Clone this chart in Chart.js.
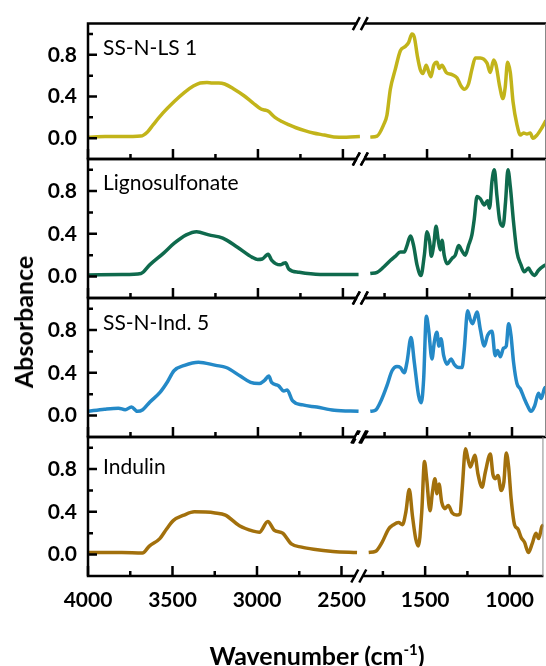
<!DOCTYPE html>
<html>
<head>
<meta charset="utf-8">
<script src="https://cdn.jsdelivr.net/npm/chart.js@4/dist/chart.umd.min.js"></script>
<style>
  html, body { margin: 0; padding: 0; background: #fff; }
  #wrap { position: relative; width: 546px; height: 666px; overflow: hidden; }
  #wrap canvas { position: absolute; left: 0; top: 0; }
  .ytitle { position: absolute; left: 23px; top: 322px; transform: translate(-50%, -50%) rotate(-90deg);
            font: bold 25px Lato, sans-serif; white-space: nowrap; color: #000; }
  .xtitle { position: absolute; left: 317px; top: 655px; transform: translate(-50%, -50%);
            font: bold 25px Lato, sans-serif; white-space: nowrap; color: #000; }
  .xtitle sup { font-size: 15px; vertical-align: 10px; line-height: 0; }
</style>
</head>
<body>
<div id="wrap">
  <canvas id="p0" width="546" height="666"></canvas>
  <canvas id="p1" width="546" height="666"></canvas>
  <canvas id="p2" width="546" height="666"></canvas>
  <canvas id="p3" width="546" height="666"></canvas>
  <div class="ytitle">Absorbance</div>
  <div class="xtitle">Wavenumber (cm<sup>-1</sup>)</div>
</div>
<script>
// sample names, top to bottom
const sampleNames = ['SS-N-LS 1', 'Lignosulfonate', 'SS-N-Ind. 5', 'Indulin'];

// x axis ticks (wavenumber, cm-1), broken between 2380 and 1875
const xMajor = [4000, 3500, 3000, 2500, 1500, 1000];
const xMinor = [3750, 3250, 2750, 1750, 1250];
const yMajor = [0, 0.4, 0.8];
const yMinor = [0.2, 0.6, 1.0];

// SS-N-LS 1
const lsWave = [4000, 3900, 3800, 3690, 3650, 3616, 3560, 3494, 3432, 3380, 3340, 3300, 3268, 3230, 3196, 3140, 3084, 3030, 2982, 2960, 2941, 2900, 2859, 2820, 2776, 2720, 2674, 2610, 2553, 2480, 2400,
  1834, 1794, 1755, 1736, 1716, 1687, 1657, 1628, 1608, 1589, 1575, 1556, 1540, 1524, 1505, 1491, 1477, 1461, 1442, 1428, 1412, 1387, 1353, 1324, 1300, 1281, 1256, 1236, 1216, 1187, 1147, 1128, 1108, 1094, 1073, 1053, 1040, 1026, 1010, 994, 971, 951, 932, 912, 893, 877, 853, 824, 800];
const lsAbs = [0.01, 0.015, 0.015, 0.02, 0.06, 0.13, 0.24, 0.35, 0.44, 0.50, 0.53, 0.535, 0.53, 0.53, 0.52, 0.47, 0.41, 0.34, 0.28, 0.27, 0.26, 0.20, 0.16, 0.13, 0.10, 0.07, 0.05, 0.03, 0.012, 0.01, 0.015,
  0.01, 0.02, 0.13, 0.22, 0.47, 0.66, 0.84, 0.88, 0.92, 1.0, 0.97, 0.78, 0.66, 0.62, 0.70, 0.64, 0.59, 0.70, 0.73, 0.67, 0.70, 0.63, 0.61, 0.58, 0.50, 0.47, 0.52, 0.66, 0.77, 0.77, 0.72, 0.63, 0.75, 0.70, 0.50, 0.38, 0.49, 0.73, 0.63, 0.35, 0.13, 0.03, 0.05, 0.04, 0.05, 0.0, 0.03, 0.10, 0.17];

// Lignosulfonate
const lignoWave = [4000, 3800, 3688, 3637, 3555, 3494, 3422, 3361, 3289, 3207, 3125, 3033, 3002, 2975, 2950, 2940, 2920, 2869, 2848, 2838, 2818, 2757, 2634, 2408,
  1834, 1794, 1755, 1716, 1687, 1657, 1634, 1618, 1598, 1579, 1559, 1536, 1516, 1500, 1485, 1475, 1461, 1447, 1434, 1422, 1412, 1399, 1383, 1353, 1334, 1314, 1294, 1275, 1256, 1236, 1222, 1206, 1187, 1163, 1144, 1132, 1118, 1104, 1089, 1073, 1053, 1038, 1024, 1010, 991, 971, 947, 928, 903, 889, 869, 844, 814, 800];
const lignoAbs = [0.015, 0.02, 0.03, 0.11, 0.22, 0.31, 0.39, 0.42, 0.39, 0.36, 0.28, 0.18, 0.16, 0.165, 0.20, 0.21, 0.155, 0.11, 0.125, 0.13, 0.07, 0.04, 0.02, 0.02,
  0.03, 0.04, 0.09, 0.15, 0.19, 0.23, 0.23, 0.29, 0.38, 0.29, 0.11, 0.01, 0.20, 0.42, 0.33, 0.19, 0.29, 0.47, 0.34, 0.25, 0.34, 0.20, 0.12, 0.17, 0.20, 0.29, 0.24, 0.20, 0.29, 0.39, 0.54, 0.75, 0.73, 0.67, 0.71, 0.64, 0.89, 1.0, 0.76, 0.53, 0.47, 0.70, 1.0, 0.84, 0.51, 0.23, 0.11, 0.045, 0.08, 0.045, 0.01, 0.06, 0.10, 0.11];

// SS-N-Ind. 5
const indSSWave = [4000, 3903, 3821, 3781, 3744, 3709, 3678, 3637, 3575, 3535, 3494, 3432, 3350, 3248, 3187, 3104, 3043, 2992, 2961, 2936, 2920, 2879, 2848, 2828, 2797, 2736, 2654, 2551, 2408,
  1834, 1804, 1765, 1736, 1706, 1677, 1657, 1634, 1618, 1594, 1575, 1550, 1534, 1520, 1504, 1491, 1471, 1457, 1442, 1430, 1418, 1402, 1383, 1359, 1340, 1314, 1294, 1281, 1261, 1246, 1232, 1206, 1187, 1163, 1144, 1118, 1099, 1085, 1069, 1050, 1034, 1020, 1006, 991, 971, 951, 928, 908, 889, 867, 844, 828, 810, 800];
const indSSAbs = [0.04, 0.06, 0.07, 0.055, 0.08, 0.04, 0.055, 0.125, 0.22, 0.31, 0.42, 0.47, 0.50, 0.47, 0.45, 0.37, 0.31, 0.30, 0.33, 0.37, 0.31, 0.28, 0.23, 0.24, 0.14, 0.10, 0.08, 0.05, 0.04,
  0.04, 0.05, 0.16, 0.28, 0.42, 0.46, 0.45, 0.40, 0.50, 0.73, 0.50, 0.19, 0.12, 0.34, 0.93, 0.81, 0.53, 0.69, 0.78, 0.65, 0.72, 0.56, 0.48, 0.53, 0.48, 0.45, 0.45, 0.62, 0.98, 0.90, 0.86, 0.97, 0.81, 0.65, 0.75, 0.79, 0.56, 0.61, 0.55, 0.63, 0.65, 0.86, 0.75, 0.50, 0.30, 0.25, 0.16, 0.09, 0.04, 0.09, 0.21, 0.16, 0.25, 0.27];

// Indulin
const indulinWave = [4000, 3800, 3678, 3637, 3575, 3535, 3494, 3432, 3371, 3248, 3187, 3104, 3022, 2986, 2936, 2899, 2848, 2797, 2736, 2665, 2551, 2408,
  1834, 1794, 1755, 1716, 1687, 1657, 1634, 1614, 1594, 1575, 1556, 1540, 1520, 1504, 1491, 1471, 1457, 1442, 1430, 1418, 1402, 1383, 1363, 1340, 1314, 1294, 1281, 1261, 1246, 1232, 1206, 1187, 1163, 1144, 1114, 1099, 1085, 1069, 1050, 1034, 1020, 1006, 991, 971, 951, 932, 912, 889, 867, 844, 828, 810, 800];
const indulinAbs = [0.02, 0.02, 0.015, 0.08, 0.15, 0.24, 0.32, 0.37, 0.40, 0.39, 0.37, 0.27, 0.22, 0.21, 0.31, 0.23, 0.20, 0.10, 0.07, 0.05, 0.03, 0.02,
  0.02, 0.03, 0.115, 0.24, 0.28, 0.30, 0.28, 0.40, 0.61, 0.36, 0.15, 0.08, 0.40, 0.87, 0.71, 0.41, 0.58, 0.71, 0.57, 0.66, 0.49, 0.43, 0.46, 0.39, 0.37, 0.38, 0.61, 0.99, 0.89, 0.82, 0.93, 0.75, 0.63, 0.77, 0.94, 0.75, 0.71, 0.74, 0.60, 0.68, 0.95, 0.82, 0.52, 0.28, 0.24, 0.16, 0.115, 0.02, 0.10, 0.20, 0.15, 0.26, 0.28];

const colors = ['#c2b41a', '#0f6a4d', '#2489c7', '#a2700c'];
const waves = [lsWave, lignoWave, indSSWave, indulinWave];
const absVals = [lsAbs, lignoAbs, indSSAbs, indulinAbs];

// broken axis: 4000..2380 then 1875..800 on one linear scale
const BREAK_HI = 2380, BREAK_LO = 1875;
function pos(w) { return w >= BREAK_HI ? 4000 - w : (4000 - BREAK_HI) + (BREAK_LO - w); }
const X_MAX = pos(800);
const BREAK_POS = 4000 - BREAK_HI;

const panelTops = [20, 159, 298, 437];
const PANEL_H = 139;
const labelOffsets = [25, 24, 25, 30];

function toPoints(wave, abs) {
  const pts = [];
  for (let i = 0; i < wave.length; i++) {
    if (i > 0 && wave[i - 1] >= BREAK_HI && wave[i] < BREAK_HI) pts.push({ x: BREAK_POS, y: null });
    pts.push({ x: pos(wave[i]), y: abs[i] });
  }
  return pts;
}

const framePlugin = {
  id: 'frame',
  afterDraw(chart, args, opts) {
    const { ctx, chartArea: ca, scales: { x, y } } = chart;
    ctx.save();
    ctx.strokeStyle = '#000';
    ctx.lineWidth = 2.5;
    ctx.lineCap = 'butt';
    ctx.beginPath();
    ctx.moveTo(ca.left, ca.top); ctx.lineTo(ca.right, ca.top);
    ctx.moveTo(ca.left, ca.bottom); ctx.lineTo(ca.right, ca.bottom);
    ctx.moveTo(ca.left, ca.top - 1.25); ctx.lineTo(ca.left, ca.bottom + 1.25);
    ctx.stroke();
    // y ticks, inward
    ctx.beginPath();
    yMajor.forEach(v => { const py = y.getPixelForValue(v); ctx.moveTo(ca.left, py); ctx.lineTo(ca.left + 9, py); });
    yMinor.forEach(v => { const py = y.getPixelForValue(v); ctx.moveTo(ca.left, py); ctx.lineTo(ca.left + 5, py); });
    // x ticks at bottom, inward
    xMajor.forEach(w => { const px = x.getPixelForValue(pos(w)); ctx.moveTo(px, ca.bottom); ctx.lineTo(px, ca.bottom - 10); });
    xMinor.forEach(w => { const px = x.getPixelForValue(pos(w)); ctx.moveTo(px, ca.bottom); ctx.lineTo(px, ca.bottom - 5); });
    ctx.stroke();
    // right edge
    ctx.strokeStyle = '#888';
    ctx.lineWidth = 1;
    ctx.beginPath();
    ctx.moveTo(ca.right - 0.5, ca.top); ctx.lineTo(ca.right - 0.5, ca.bottom);
    ctx.stroke();
    // break marks
    const bx = x.getPixelForValue(BREAK_POS) - 3;
    [ca.top, ca.bottom].forEach(by => {
      ctx.fillStyle = '#fff';
      ctx.fillRect(bx - 3, by - 2, 7, 4);
      ctx.strokeStyle = '#000';
      ctx.lineWidth = 2.5;
      ctx.beginPath();
      [bx - 4, bx + 4].forEach(sx => { ctx.moveTo(sx - 3.5, by + 6.5); ctx.lineTo(sx + 3.5, by - 6.5); });
      ctx.stroke();
    });
    // panel label
    ctx.fillStyle = '#000';
    ctx.font = '21px Lato, sans-serif';
    ctx.textBaseline = 'middle';
    ctx.textAlign = 'left';
    ctx.fillText(opts.label, ca.left + 15, ca.top + opts.labelOffset);
    ctx.restore();
  }
};

const tickFont = { family: 'Lato, sans-serif', size: 21, weight: 'bold' };
const xTickLabels = xMajor.map(String);

sampleNames.forEach((name, i) => {
  const isLast = i === sampleNames.length - 1;
  const xh = isLast ? 40 : 0;
  const top = panelTops[i];
  new Chart(document.getElementById('p' + i), {
    type: 'line',
    data: {
      datasets: [{
        data: toPoints(waves[i], absVals[i]),
        borderColor: colors[i],
        borderWidth: 3.5,
        pointRadius: 0,
        fill: false,
        spanGaps: false,
        cubicInterpolationMode: 'monotone'
      }]
    },
    options: {
      responsive: false,
      animation: false,
      events: [],
      layout: { padding: { top: top, bottom: 666 - (top + PANEL_H) - xh, left: 0, right: 0 } },
      plugins: {
        legend: { display: false },
        tooltip: { enabled: false },
        frame: { label: name, labelOffset: labelOffsets[i] }
      },
      scales: {
        x: {
          type: 'linear', min: 0, max: X_MAX,
          afterBuildTicks: s => { s.ticks = xMajor.map(w => ({ value: pos(w) })); },
          afterFit: s => { s.height = xh; },
          grid: { display: false, drawTicks: false },
          border: { display: false },
          ticks: { display: isLast, font: tickFont, color: '#000', padding: 12, maxRotation: 0, autoSkip: false,
                   callback: (v, idx) => xTickLabels[idx] }
        },
        y: {
          min: -0.2, max: 1.1,
          afterBuildTicks: s => { s.ticks = yMajor.map(v => ({ value: v })); },
          afterFit: s => { s.width = 88; },
          grid: { display: false, drawTicks: false },
          border: { display: false },
          ticks: { font: tickFont, color: '#000', padding: 11, callback: v => v.toFixed(1) }
        }
      }
    },
    plugins: [framePlugin]
  });
});
</script>
</body>
</html>
